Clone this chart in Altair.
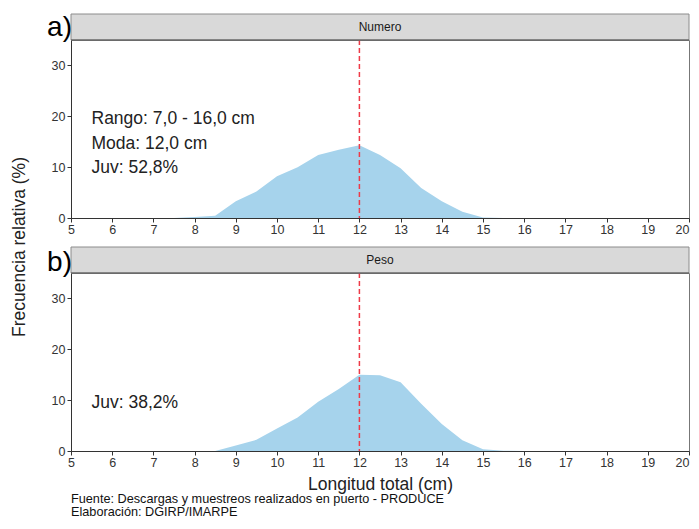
import altair as alt
import pandas as pd

FONT = "Liberation Sans"

# ---- data ----
len_num = [7.5, 8.0, 8.5, 9.0, 9.5, 10.0, 10.5, 11.0, 11.5, 12.0, 12.5, 13.0, 13.5, 14.0, 14.5, 15.0, 15.5]
val_num = [0.0, 0.2, 0.45, 3.3, 5.2, 8.2, 10.0, 12.4, 13.4, 14.3, 12.4, 9.8, 5.9, 3.3, 1.25, 0.1, 0.0]

len_pes = [8.0, 8.5, 9.0, 9.5, 10.0, 10.5, 11.0, 11.5, 12.0, 12.5, 13.0, 13.5, 14.0, 14.5, 15.0, 15.5, 16.0]
val_pes = [0.0, 0.0, 1.1, 2.2, 4.4, 6.6, 9.7, 12.2, 15.0, 14.9, 13.5, 9.3, 5.3, 2.1, 0.35, 0.05, 0.0]

moda = 12.0
headers = ["Numero", "Peso"]
letters = ["a)", "b)"]
notes_num = ["Rango: 7,0 - 16,0 cm", "Moda: 12,0 cm", "Juv: 52,8%"]
notes_pes = ["Juv: 38,2%"]
x_ticks = [5 + 0.5 * i for i in range(31)]
y_ticks = [0, 10, 20, 30]
footer = ["Fuente: Descargas y muestreos realizados en puerto - PRODUCE",
          "Elaboración: DGIRP/IMARPE"]

W, H = 618, 178
STRIP = 26


def panel(lengths, values, header, letter, notes, note_y0, letter_y, bottom):
    df = pd.DataFrame({"x": lengths, "y": values})
    xaxis = alt.Axis(values=x_ticks, labelExpr="datum.value % 1 == 0 ? datum.label : ''",
                     labelAlign={"condition": {"test": "datum.value == 20", "value": "right"},
                                 "value": "center"},
                     grid=False, tickSize=4, labelPadding=1.5,
                     title="Longitud total (cm)" if bottom else None,
                     **({"titleX": W / 2, "titleY": 38, "titleBaseline": "alphabetic",
                         "titleAlign": "center"} if bottom else {}))
    yaxis = alt.Axis(values=y_ticks, grid=False, tickSize=4, labelPadding=2,
                     title="Frecuencia relativa (%)" if bottom else None,
                     **({"titleX": -47, "titleY": -26.5, "titleBaseline": "alphabetic",
                         "titleAlign": "center", "titleAngle": 270} if bottom else {}))
    area = alt.Chart(df).mark_area(color="#a6d3ec", opacity=1).encode(
        x=alt.X("x:Q", scale=alt.Scale(domain=[5, 20], nice=False, zero=False), axis=xaxis),
        y=alt.Y("y:Q", scale=alt.Scale(domain=[0, 35], nice=False), axis=yaxis),
    )
    rule = alt.Chart(pd.DataFrame({"x": [moda]})).mark_rule(
        color="#ee3b48", strokeDash=[5, 3], strokeWidth=1.5).encode(x="x:Q")
    strip = alt.Chart(pd.DataFrame({"h": [header]})).mark_rect(
        fill="#d9d9d9", stroke="#8c8c8c", strokeWidth=1).encode(
        x=alt.value(0), x2=alt.value(W), y=alt.value(-STRIP), y2=alt.value(0))
    strip_line = alt.Chart(pd.DataFrame({"h": [header]})).mark_rule(
        color="#555555", strokeWidth=1).encode(x=alt.value(0), x2=alt.value(W), y=alt.value(0))
    htext = alt.Chart(pd.DataFrame({"h": [header]})).mark_text(
        fontSize=12, color="#1a1a1a", align="center", baseline="middle").encode(
        x=alt.value(W / 2), y=alt.value(-STRIP / 2), text="h:N")
    ltext = alt.Chart(pd.DataFrame({"t": [letter]})).mark_text(
        fontSize=28, color="#000000", align="right", baseline="alphabetic").encode(
        x=alt.value(1), y=alt.value(letter_y), text="t:N")
    ndf = pd.DataFrame({"t": notes, "py": [note_y0 + 24.5 * i for i in range(len(notes))]})
    ntext = alt.Chart(ndf).mark_text(
        fontSize=17.5, color="#222222", align="left", baseline="alphabetic").encode(
        x=alt.value(20.5), y=alt.Y("py:Q", scale=None), text="t:N")
    layers = [area, rule, strip, strip_line, htext, ltext, ntext]
    if bottom:
        fdf = pd.DataFrame({"t": footer, "py": [229.5, 243]})
        ftext = alt.Chart(fdf).mark_text(
            fontSize=12.7, color="#111111", align="left", baseline="alphabetic").encode(
            x=alt.value(0), y=alt.Y("py:Q", scale=None), text="t:N")
        layers.append(ftext)
    return alt.layer(*layers).properties(width=W, height=H)


top = panel(len_num, val_num, headers[0], letters[0], notes_num, 84, -4.5, False)
bot = panel(len_pes, val_pes, headers[1], letters[1], notes_pes, 135, -2, True)

chart = alt.vconcat(top, bot, spacing=55, bounds="flush").properties(
    padding={"left": 1, "top": 5, "right": 0, "bottom": 0}
).configure(font=FONT).configure_view(stroke="#777777", strokeWidth=1).configure_axis(
    domainColor="#333333", tickColor="#333333", labelColor="#333333",
    labelFontSize=12.5, labelFont=FONT, titleFont=FONT, titleFontSize=17.5,
    titleFontWeight="normal", titleColor="#222222",
)

chart.save("out.html", embed_options={"renderer": "svg", "actions": False})
